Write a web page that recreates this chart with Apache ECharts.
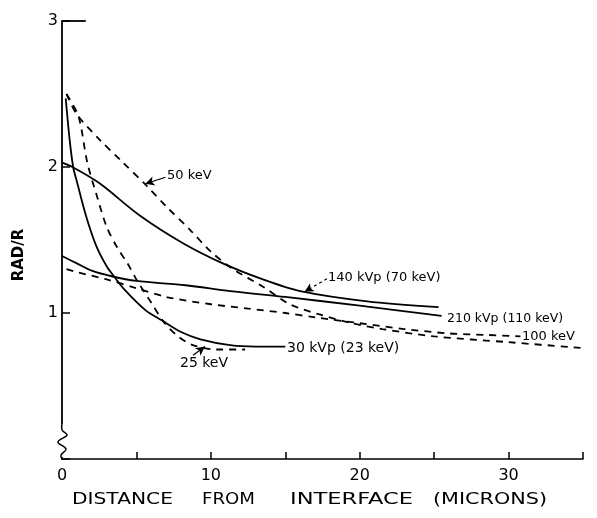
<!DOCTYPE html>
<html><head><meta charset="utf-8">
<script src="https://cdn.jsdelivr.net/npm/echarts@6/dist/echarts.min.js"></script>
<style>html,body{margin:0;padding:0;background:#fff}#c{width:597px;height:518px}</style>
</head><body><div id="c"></div>
<script>
// Tick labels
const xTickLabels = ['0', '10', '20', '30'];
const yTickLabels = ['1', '2', '3'];
const xTitleWords = ['DISTANCE', 'FROM', 'INTERFACE', '(MICRONS)'];

// Solid curves
const kvp140 = [[0,2.03],[0.7,2.0],[2.5,1.89],[5.2,1.67],[8.1,1.48],[10.8,1.34],[13.5,1.23],[16,1.15],[20.5,1.08],[25.3,1.04]];
const kvp210 = [[0,1.39],[1,1.34],[2,1.29],[3.4,1.25],[5,1.22],[8.3,1.19],[11.3,1.15],[15,1.11],[20,1.05],[25.5,0.98]];
const kvp30  = [[0.25,2.47],[0.5,2.2],[0.75,2.0],[1.0,1.9],[1.6,1.67],[2.3,1.46],[3.0,1.32],[3.5,1.25],[4.2,1.16],[5.6,1.02],[6.7,0.95],[8.0,0.87],[9.3,0.82],[11.3,0.78],[13,0.77],[15,0.77]];

// Dashed curves
const kev50  = [[0.3,2.5],[1,2.36],[2.5,2.19],[4,2.04],[5.7,1.87],[7,1.73],[8.6,1.57],[10,1.42],[11.5,1.3],[13.5,1.18],[15.3,1.06],[17.3,0.99],[19.5,0.93],[21.5,0.89],[25,0.84],[30,0.8],[35,0.76]];
const kev100 = [[0.3,1.3],[1,1.28],[3,1.23],[5,1.17],[7,1.11],[10,1.06],[12.5,1.03],[15,1.0],[17,0.97],[20,0.93],[23,0.89],[26,0.86],[28.5,0.85],[30.8,0.84]];
const kev25  = [[0.3,2.5],[1.1,2.35],[1.7,2.03],[2.35,1.8],[3.0,1.59],[3.7,1.45],[4.4,1.34],[5.0,1.23],[6.0,1.07],[6.9,0.93],[7.8,0.84],[8.8,0.78],[10.4,0.75],[12.3,0.75]];

const FONT = 'DejaVu Sans';
const chart = echarts.init(document.getElementById('c'), null, {renderer: 'canvas'});

function line(name, data, dashed, extra) {
  return Object.assign({
    name: name, type: 'line', data: data, showSymbol: false, symbol: 'none',
    smooth: 0.3,
    lineStyle: {color: '#000', width: 1.8, type: dashed ? [7, 6] : 'solid'},
    animation: false, silent: true
  }, extra || {});
}
function arrow(from, to, dashed) {
  return {
    silent: true, animation: false, symbol: ['none', 'arrow'], symbolSize: [7, 9],
    label: {show: false},
    lineStyle: {color: '#000', width: 1.2, type: dashed ? [3, 3] : 'solid'},
    data: [[{coord: from}, {coord: to}]]
  };
}

// stretched text to mimic the wide hand lettering
const mctx = document.createElement('canvas').getContext('2d');
function wideText(text, left, width, cy, font) {
  mctx.font = font;
  const w = mctx.measureText(text).width;
  return {type: 'text', x: left, y: cy, scaleX: width / w,
    style: {text: text, fill: '#000', font: font, align: 'left', verticalAlign: 'middle'}};
}
const titleX = [72, 202, 290, 433];
const titleW = [101, 53, 123, 114];
const titleGraphics = xTitleWords.map((w, i) => wideText(w, titleX[i], titleW[i], 500, '16px "DejaVu Sans"'));

const option = {
  backgroundColor: '#fff',
  animation: false,
  grid: {left: 62, right: 14, top: 21, bottom: 59, containLabel: false},
  xAxis: {
    type: 'value', min: 0, max: 35, interval: 5,
    axisLine: {show: true, lineStyle: {color: '#000', width: 1.5}},
    axisTick: {show: true, inside: true, length: 7, lineStyle: {color: '#000', width: 1.5}},
    splitLine: {show: false},
    axisLabel: {
      margin: 9, color: '#000', fontSize: 16, fontFamily: FONT,
      formatter: v => xTickLabels.includes(String(v)) ? String(v) : ''
    }
  },
  yAxis: {
    type: 'value', min: 0, max: 3, interval: 1,
    axisLine: {show: true, lineStyle: {color: '#000', width: 1.8}},
    axisTick: {show: true, inside: true, length: 8, lineStyle: {color: '#000', width: 1.5}},
    splitLine: {show: false},
    axisLabel: {
      margin: 4, color: '#000', fontSize: 16, fontFamily: FONT,
      formatter: v => yTickLabels.includes(String(v)) ? String(v) : ''
    }
  },
  graphic: [
    {type: 'rect', shape: {x: 54, y: 424, width: 16, height: 33}, style: {fill: '#fff'}, z: 100},
    {type: 'polyline', shape: {points: [[62, 424], [62, 430], [67, 435], [58, 442], [66, 449], [61, 455], [62, 459]], smooth: 0.4},
     style: {stroke: '#000', lineWidth: 1.5, fill: null}, z: 101},
    {type: 'text', x: 19, y: 255, rotation: Math.PI / 2,
     style: {text: 'RAD/R', fill: '#000', font: 'bold 15px "DejaVu Sans"', align: 'center', verticalAlign: 'middle'}, z: 50},
    {type: 'text', x: 167, y: 176, style: {text: '50 keV', fill: '#000', font: '13px "DejaVu Sans"', verticalAlign: 'middle'}},
    {type: 'text', x: 328, y: 278, style: {text: '140 kVp (70 keV)', fill: '#000', font: '13px "DejaVu Sans"', verticalAlign: 'middle'}},
    {type: 'text', x: 447, y: 319, style: {text: '210 kVp (110 keV)', fill: '#000', font: '12.5px "DejaVu Sans"', verticalAlign: 'middle'}},
    {type: 'text', x: 522, y: 337, style: {text: '100 keV', fill: '#000', font: '13px "DejaVu Sans"', verticalAlign: 'middle'}},
    {type: 'text', x: 287, y: 348, style: {text: '30 kVp (23 keV)', fill: '#000', font: '14px "DejaVu Sans"', verticalAlign: 'middle'}},
    {type: 'text', x: 180, y: 363, style: {text: '25 keV', fill: '#000', font: '14px "DejaVu Sans"', verticalAlign: 'middle'}}
  ].concat(titleGraphics),
  series: [
    line('140 kVp (70 keV)', kvp140, false, {markLine: arrow([17.8, 1.235], [16.3, 1.145], true)}),
    line('210 kVp (110 keV)', kvp210, false),
    line('30 kVp (23 keV)', kvp30, false, {
      markLine: {silent: true, animation: false, symbol: ['none', 'none'], label: {show: false},
        lineStyle: {color: '#000', width: 1.8, type: 'solid'}, data: [[{coord: [0, 3]}, {coord: [1.6, 3]}]]}
    }),
    line('50 keV', kev50, true, {markLine: arrow([6.95, 1.93], [5.6, 1.885], false)}),
    line('100 keV', kev100, true),
    line('25 keV', kev25, true, {markLine: arrow([8.8, 0.71], [9.6, 0.77], false)})
  ]
};
chart.setOption(option);
</script>
</body></html>
